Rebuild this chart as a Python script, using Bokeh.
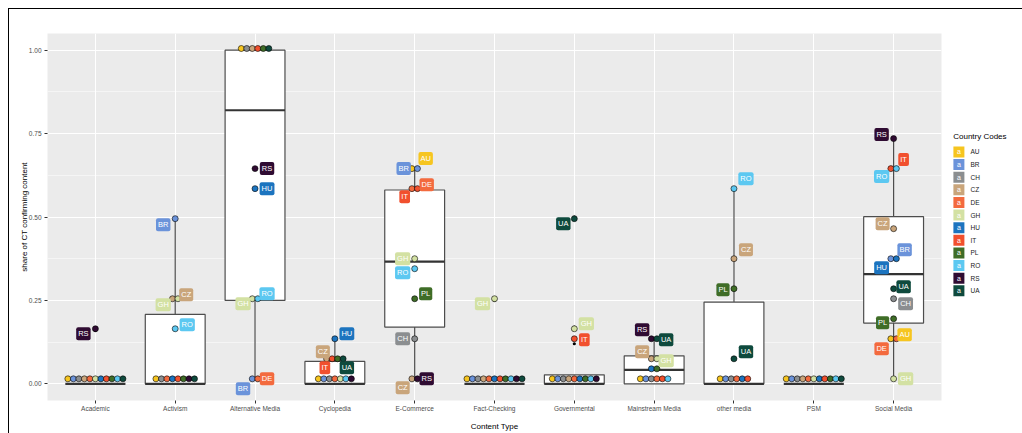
import math
from bokeh.plotting import figure
from bokeh.models import Range1d, FixedTicker, NumeralTickFormatter, ColumnDataSource, InlineStyleSheet
from bokeh.layouts import row
from bokeh.embed import file_html
from bokeh.resources import INLINE
from bokeh.core.properties import value

# ---------------- data ----------------
categories = ["Academic", "Activism", "Alternative Media", "Cyclopedia", "E-Commerce",
              "Fact-Checking", "Governmental", "Mainstream Media", "other media", "PSM",
              "Social Media"]
countries = ["AU", "BR", "CH", "CZ", "DE", "GH", "HU", "IT", "PL", "RO", "RS", "UA"]
country_colors = ["#F6C520", "#6B93DA", "#8B8E90", "#C9A57B", "#F36A3E", "#D3E1A3",
                  "#1C74BF", "#F1502E", "#3F6D27", "#5CC8F1", "#2F0B32", "#0E4A3D"]

# share of CT confirming content, one entry per category (None = no data)
AU = [0, 0, 1.0, 0, 0.65, 0, 0, 0, 0, 0, 0.13]
BR = [0, 0.5, 0.01, 0, 0.65, 0, 0, 0, 0, 0, 0.38]
CH = [0, 0, 1.0, 0, 0.13, 0, 0, 0, 0, 0, 0.25]
CZ = [0, 0.25, 1.0, 0.07, 0.01, 0, 0, 0.07, 0.38, 0, 0.455]
DE = [0, 0, 0.01, 0, 0.59, 0, 0, 0, 0, 0, 0.13]
GH = [0, 0.25, 0.25, 0, 0.38, 0.25, 0.17, 0.07, None, 0, 0.01]
HU = [0, 0, 0.59, 0.13, None, 0, 0, 0.04, 0, 0, 0.38]
IT = [0, 0, 1.0, 0.07, 0.59, 0, 0.12, 0, 0, 0, 0.65]
PL = [0, 0, 1.0, 0.07, 0.25, 0, 0, 0.04, 0.29, 0, 0.2]
RO = [0, 0.17, 0.25, 0, 0.335, 0, 0, 0, 0.59, 0, 0.65]
RS = [0.16, 0, 0.65, 0, 0.01, 0, 0, 0.13, None, None, 0.735]
UA = [0, 0, 1.0, 0.07, None, 0, 0.5, 0.13, 0.07, 0, 0.29]
series = {"AU": AU, "BR": BR, "CH": CH, "CZ": CZ, "DE": DE, "GH": GH, "HU": HU,
          "IT": IT, "PL": PL, "RO": RO, "RS": RS, "UA": UA}

# box statistics per category
box_q1 = [0, 0, 0.25, 0, 0.17, 0, 0, 0, 0, 0, 0.182]
box_med = [0, 0, 0.82, 0, 0.366, 0, 0, 0.042, 0, 0, 0.329]
box_q3 = [0, 0.208, 1.0, 0.067, 0.581, 0, 0.027, 0.084, 0.245, 0, 0.501]
whisk_lo = [0, 0, 0.01, 0, 0.01, 0, 0, 0, 0, 0, 0.01]
whisk_hi = [0, 0.5, 1.0, 0.13, 0.65, 0, 0.027, 0.13, 0.59, 0, 0.735]

# label placement (repel-like nudges in screen px: dx right, dy up)
label_nudge = {
    ("Academic", "RS"): (-12, -5),
    ("Activism", "BR"): (-12, -6), ("Activism", "CZ"): (11, 4),
    ("Activism", "GH"): (-12, -6), ("Activism", "RO"): (12, 4),
    ("Alternative Media", "RS"): (12, 0), ("Alternative Media", "HU"): (12, 0),
    ("Alternative Media", "GH"): (-12, -5), ("Alternative Media", "RO"): (12, 5),
    ("Alternative Media", "DE"): (12, 0), ("Alternative Media", "BR"): (-12, -10),
    ("Cyclopedia", "HU"): (12, 5), ("Cyclopedia", "CZ"): (-12, 7),
    ("Cyclopedia", "IT"): (-10, -9), ("Cyclopedia", "UA"): (12, -9),
    ("E-Commerce", "AU"): (11, 10), ("E-Commerce", "BR"): (-11, 0),
    ("E-Commerce", "DE"): (12, 4), ("E-Commerce", "IT"): (-10, -8),
    ("E-Commerce", "GH"): (-12, 0), ("E-Commerce", "RO"): (-12, -4),
    ("E-Commerce", "PL"): (11, 5), ("E-Commerce", "CH"): (-12, 0),
    ("E-Commerce", "RS"): (12, 0), ("E-Commerce", "CZ"): (-12, -9),
    ("Fact-Checking", "GH"): (-12, -5),
    ("Governmental", "GH"): (12, 5), ("Governmental", "IT"): (10, -1),
    ("Governmental", "UA"): (-11, -5),
    ("Mainstream Media", "RS"): (-12, 9), ("Mainstream Media", "UA"): (12, -1),
    ("Mainstream Media", "CZ"): (-12, 7), ("Mainstream Media", "GH"): (12, -2),
    ("other media", "RO"): (12, 10), ("other media", "CZ"): (12, 9),
    ("other media", "PL"): (-11, -1), ("other media", "UA"): (12, 7),
    ("Social Media", "RS"): (-12, 4), ("Social Media", "IT"): (10, 9),
    ("Social Media", "RO"): (-12, -8), ("Social Media", "CZ"): (-11, 5),
    ("Social Media", "BR"): (11, 9), ("Social Media", "HU"): (-12, -9),
    ("Social Media", "UA"): (10, 2), ("Social Media", "CH"): (12, -5),
    ("Social Media", "PL"): (-11, -4), ("Social Media", "AU"): (11, 4),
    ("Social Media", "DE"): (-12, -10), ("Social Media", "GH"): (12, 0),
}

# ---------------- derived geometry (dotplot binning like ggplot histodot) ----------------
BINWIDTH = 0.03
STACK_STEP = 0.069  # horizontal distance between stacked dots, in category units
BOX_HALF = 0.375

color_of = dict(zip(countries, country_colors))
dot = {"x": [], "y": [], "color": []}
lab = {"x": [], "y": [], "code": [], "color": [], "dx": [], "dy": []}
outl = {"x": [], "y": []}
for ci, cat in enumerate(categories):
    groups = {}
    for c in countries:
        v = series[c][ci]
        if v is None:
            continue
        if v > whisk_hi[ci] + 1e-9 or v < whisk_lo[ci] - 1e-9:
            outl["x"].append(ci + 1)
            outl["y"].append(v)
        b = math.floor(v / BINWIDTH + 1e-9)
        groups.setdefault(b, []).append(c)
    for b, members in groups.items():
        yc = (b + 0.5) * BINWIDTH
        n = len(members)
        for i, c in enumerate(members):
            dot["x"].append(ci + 1 + (i - (n - 1) / 2) * STACK_STEP)
            dot["y"].append(yc)
            dot["color"].append(color_of[c])
            if (cat, c) in label_nudge and series[c][ci] > 0:
                dx, dy = label_nudge[(cat, c)]
                lab["x"].append(ci + 1)
                lab["y"].append(yc)
                lab["code"].append(c)
                lab["color"].append(color_of[c])
                lab["dx"].append(dx)
                lab["dy"].append(-dy)

xc = [i + 1 for i in range(len(categories))]
box = ColumnDataSource(dict(
    x=xc, left=[x - BOX_HALF for x in xc], right=[x + BOX_HALF for x in xc],
    q1=box_q1, med=box_med, q3=box_q3, lo=whisk_lo, hi=whisk_hi))

# ---------------- main plot ----------------
FONT = "Liberation Sans"
TOP, BOTTOM = 33, 32
p = figure(width=945, height=433, x_range=Range1d(0.4, 11.6), y_range=Range1d(-0.05, 1.05),
           output_backend="svg", toolbar_location=None, title=None,
           min_border_left=47, min_border_right=4, min_border_top=TOP, min_border_bottom=BOTTOM,
           background_fill_color="#EBEBEB", border_fill_color="white")
p.outline_line_color = None

p.xaxis.ticker = FixedTicker(ticks=xc)
p.xaxis.major_label_overrides = {x: c for x, c in zip(xc, categories)}
p.yaxis.ticker = FixedTicker(ticks=[0, 0.25, 0.5, 0.75, 1.0],
                             minor_ticks=[0.125, 0.375, 0.625, 0.875])
p.yaxis.formatter = NumeralTickFormatter(format="0.00")
p.xaxis.axis_label = "Content Type"
p.yaxis.axis_label = "share of CT confirming content"
for ax in (p.xaxis, p.yaxis):
    ax.axis_line_color = None
    ax.major_tick_line_color = "#333333"
    ax.major_tick_out = 3
    ax.major_tick_in = 0
    ax.minor_tick_line_color = None
    ax.major_label_text_font = FONT
    ax.major_label_text_font_size = "6.5px"
    ax.major_label_text_color = "#4D4D4D"
    ax.axis_label_text_font = FONT
    ax.axis_label_text_font_size = "8px"
    ax.axis_label_text_font_style = "normal"
    ax.axis_label_text_color = "#000000"
p.yaxis.major_label_standoff = 2
p.yaxis.axis_label_standoff = -3
p.xaxis.major_label_standoff = 1
p.xaxis.axis_label_standoff = 7

p.xgrid.grid_line_color = "white"
p.xgrid.grid_line_width = 1
p.ygrid.grid_line_color = "white"
p.ygrid.grid_line_width = 1
p.ygrid.minor_grid_line_color = "white"
p.ygrid.minor_grid_line_width = 0.5

BOXCOL = "#4D4D4D"
p.segment(x0="x", y0="q3", x1="x", y1="hi", source=box, line_color=BOXCOL, line_width=1.2)
p.segment(x0="x", y0="q1", x1="x", y1="lo", source=box, line_color=BOXCOL, line_width=1.2)
p.quad(left="left", right="right", bottom="q1", top="q3", source=box,
       fill_color="white", line_color=BOXCOL, line_width=1.2)
p.segment(x0="left", y0="med", x1="right", y1="med", source=box, line_color="#333333",
          line_width=2.2)

# boxplot outliers (small black points at the raw values)
p.scatter(x="x", y="y", source=ColumnDataSource(outl), size=3.2, fill_color="black",
          line_color=None)

p.scatter(x="x", y="y", source=ColumnDataSource(dot), size=6, fill_color="color",
          line_color="black", line_width=0.6)

p.text(x="x", y="y", text="code", source=ColumnDataSource(lab), x_offset="dx", y_offset="dy",
       text_align="center", text_baseline="middle", text_color="white",
       text_font=value(FONT), text_font_size="7.5px",
       background_fill_color="color", border_radius=2, padding=2)

# ---------------- legend panel (its frame is aligned with the main frame; y in page px) ----------------
leg = figure(width=77, height=433, x_range=Range1d(0, 77), y_range=Range1d(433 - BOTTOM, TOP),
             output_backend="svg", toolbar_location=None, title=None,
             x_axis_location=None, y_axis_location=None,
             min_border_left=0, min_border_right=0, min_border_top=TOP, min_border_bottom=BOTTOM)
leg.grid.visible = False
leg.outline_line_color = None
leg.background_fill_color = "white"
leg.border_fill_color = "white"

KEY_X, KEY_Y0, KEY_STEP = 13.4, 151.7, 12.66
ky = [KEY_Y0 + i * KEY_STEP for i in range(len(countries))]
leg.scatter(x=[KEY_X] * len(countries), y=ky, marker="square", size=11,
            fill_color=country_colors, line_color=None)
leg.text(x=[KEY_X] * len(countries), y=ky, text=["a"] * len(countries), text_color="white",
         text_align="center", text_baseline="middle", text_font=value(FONT),
         text_font_size="7px")
leg.text(x=[25] * len(countries), y=ky, text=countries, text_color="#1A1A1A",
         text_align="left", text_baseline="middle", text_font=value(FONT),
         text_font_size="6.5px")
leg.text(x=[7.7], y=[136], text=["Country Codes"], text_color="#000000",
         text_align="left", text_baseline="middle", text_font=value(FONT),
         text_font_size="8px")

frame_css = InlineStyleSheet(css="""
:host::after {
  content: ""; position: absolute; left: 8px; top: 8px; right: -4px; bottom: -4px;
  border-top: 1.5px solid #000; border-left: 1.5px solid #000; pointer-events: none;
}
""")
layout = row(p, leg, stylesheets=[frame_css])
open("out.html", "w").write(file_html(layout, INLINE))
